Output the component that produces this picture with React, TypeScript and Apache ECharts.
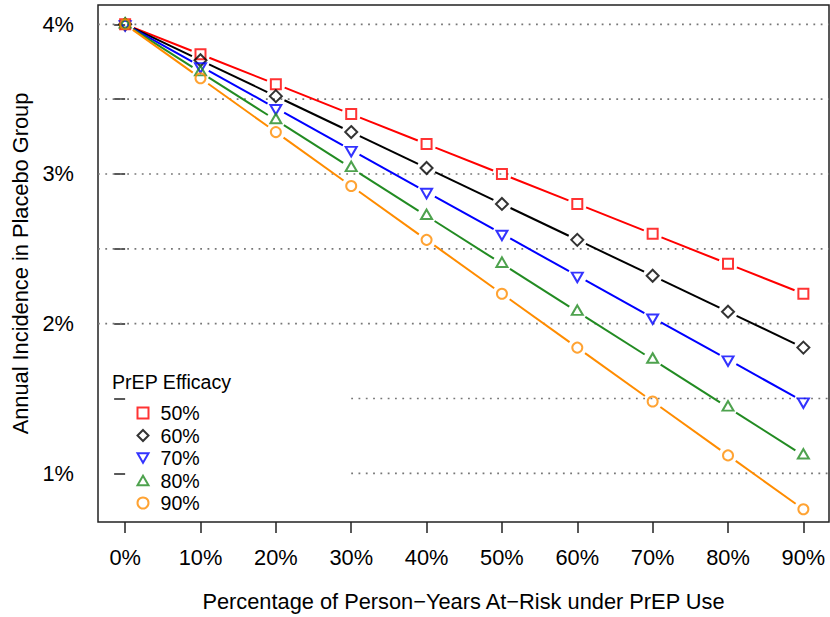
import React, { useEffect, useRef } from "react";
import * as echarts from "echarts";

// Coverage (% of person-years at risk under PrEP use)
const coverage = [0, 10, 20, 30, 40, 50, 60, 70, 80, 90];
// Annual incidence in placebo group (%) for each PrEP efficacy
const eff50 = [4.0, 3.8, 3.6, 3.4, 3.2, 3.0, 2.8, 2.6, 2.4, 2.2];
const eff60 = [4.0, 3.76, 3.52, 3.28, 3.04, 2.8, 2.56, 2.32, 2.08, 1.84];
const eff70 = [4.0, 3.72, 3.44, 3.16, 2.88, 2.6, 2.32, 2.04, 1.76, 1.48];
const eff80 = [4.0, 3.68, 3.36, 3.04, 2.72, 2.4, 2.08, 1.76, 1.44, 1.12];
const eff90 = [4.0, 3.64, 3.28, 2.92, 2.56, 2.2, 1.84, 1.48, 1.12, 0.76];
const efficacyLabels = ["50%", "60%", "70%", "80%", "90%"];
const yTickValues = [1, 1.5, 2, 2.5, 3, 3.5, 4];
const yLabelValues = [1, 2, 3, 4];
const fullGridY = [2, 2.5, 3, 3.5, 4];
const partialGridY = [1, 1.5];
const partialGridStart = 30;

const FONT = "'Liberation Sans', Arial, Helvetica, sans-serif";
const X_MIN = -3.6;
const X_MAX = 93.4;
const AXIS_FONT = 21.8;
const LEGEND_FONT = 19.6;

const seriesDefs = [
  { name: efficacyLabels[0], values: eff50, color: "#FF0000", symbol: "rect", size: [10, 10], offset: [0, 0] },
  { name: efficacyLabels[1], values: eff60, color: "#000000", symbol: "diamond", size: [12, 12], offset: [0, 0] },
  { name: efficacyLabels[2], values: eff70, color: "#0000FF", symbol: "path://M0,0L10,0L5,8.66Z", size: [11, 9.5], offset: [0, 1.6] },
  { name: efficacyLabels[3], values: eff80, color: "#228B22", symbol: "path://M5,0L10,8.66L0,8.66Z", size: [11, 9.5], offset: [0, -1.6] },
  { name: efficacyLabels[4], values: eff90, color: "#FF8C00", symbol: "circle", size: [10, 10], offset: [0, 0] },
];

const GAP = 9.5;

function gappedLine(color: string) {
  return (params: any, api: any) => {
    const p1 = api.coord([api.value(0), api.value(1)]);
    const p2 = api.coord([api.value(2), api.value(3)]);
    const dx = p2[0] - p1[0];
    const dy = p2[1] - p1[1];
    const d = Math.sqrt(dx * dx + dy * dy);
    if (d <= 2 * GAP) return null;
    const ux = dx / d;
    const uy = dy / d;
    return {
      type: "line",
      shape: {
        x1: p1[0] + ux * GAP,
        y1: p1[1] + uy * GAP,
        x2: p2[0] - ux * GAP,
        y2: p2[1] - uy * GAP,
      },
      style: { stroke: color, lineWidth: 2, fill: null },
    };
  };
}

export default function App() {
  const ref = useRef<HTMLDivElement>(null);

  useEffect(() => {
    if (!ref.current) return;
    const chart = echarts.init(ref.current, null, { renderer: "svg" });

    const gridData: number[][] = [
      ...fullGridY.map((y) => [X_MIN, y, X_MAX, y]),
      ...partialGridY.map((y) => [partialGridStart, y, X_MAX, y]),
    ];

    const series: any[] = [
      {
        name: "grid lines",
        type: "custom",
        silent: true,
        z: 1,
        data: gridData,
        encode: { x: [0, 2], y: [1, 3] },
        renderItem: (params: any, api: any) => {
          const p1 = api.coord([api.value(0), api.value(1)]);
          const p2 = api.coord([api.value(2), api.value(3)]);
          return {
            type: "line",
            shape: { x1: p1[0], y1: p1[1], x2: p2[0], y2: p2[1] },
            style: { stroke: "#777777", lineWidth: 1.7, lineDash: [1.8, 5.5], fill: null },
          };
        },
      },
    ];

    seriesDefs.forEach((s) => {
      const segs: number[][] = [];
      for (let i = 0; i < coverage.length - 1; i++) {
        segs.push([coverage[i], s.values[i], coverage[i + 1], s.values[i + 1]]);
      }
      series.push({
        name: s.name + " line",
        type: "custom",
        silent: true,
        z: 2,
        data: segs,
        encode: { x: [0, 2], y: [1, 3] },
        renderItem: gappedLine(s.color),
      });
      series.push({
        name: s.name,
        type: "scatter",
        silent: true,
        z: 2,
        symbol: s.symbol,
        symbolSize: s.size,
        symbolOffset: s.offset,
        data: coverage.map((x, i) => [x, s.values[i]]),
        itemStyle: { color: "rgba(0,0,0,0)", borderColor: s.color, borderWidth: 2 },
        emphasis: { disabled: true },
      });
    });

    const option: any = {
      animation: false,
      backgroundColor: "#ffffff",
      textStyle: { fontFamily: FONT },
      grid: {
        left: 98,
        top: 5,
        width: 731,
        height: 518,
        show: true,
        borderColor: "#222",
        borderWidth: 1.5,
        backgroundColor: "transparent",
        containLabel: false,
      },
      xAxis: {
        type: "value",
        min: X_MIN,
        max: X_MAX,
        name: "Percentage of Person\u2212Years At\u2212Risk under PrEP Use",
        nameLocation: "middle",
        nameGap: 68,
        nameTextStyle: { fontSize: AXIS_FONT, color: "#000", fontFamily: FONT },
        axisLine: { show: false },
        splitLine: { show: false },
        axisTick: {
          show: true,
          customValues: coverage,
          length: 11,
          lineStyle: { color: "#222", width: 1.5 },
        },
        axisLabel: {
          customValues: coverage,
          formatter: (v: number) => `${v}%`,
          fontSize: AXIS_FONT,
          color: "#000",
          margin: 24,
          fontFamily: FONT,
        },
      },
      yAxis: {
        type: "value",
        min: 0.675,
        max: 4.129,
        name: "Annual Incidence in Placebo Group",
        nameLocation: "middle",
        nameGap: 62,
        nameTextStyle: { fontSize: AXIS_FONT, color: "#000", fontFamily: FONT },
        axisLine: { show: false },
        splitLine: { show: false },
        axisTick: {
          show: true,
          customValues: yTickValues,
          length: 11,
          lineStyle: { color: "#222", width: 1.5 },
        },
        axisLabel: {
          customValues: yLabelValues,
          formatter: (v: number) => `${v}%`,
          fontSize: AXIS_FONT,
          color: "#000",
          margin: 24,
          fontFamily: FONT,
        },
      },
      legend: {
        data: efficacyLabels,
        orient: "vertical",
        left: 136.5,
        top: 403,
        padding: 0,
        itemWidth: 11,
        itemHeight: 11,
        itemGap: 2.5,
        selectedMode: false,
        itemStyle: { borderWidth: 2 },
        textStyle: {
          fontSize: LEGEND_FONT,
          color: "#000",
          fontFamily: FONT,
          lineHeight: 18,
          padding: [0, 0, 0, 7],
        },
      },
      graphic: [
        {
          type: "text",
          x: 112,
          y: 382,
          silent: true,
          style: {
            text: "PrEP Efficacy",
            fontSize: LEGEND_FONT,
            fontFamily: FONT,
            fill: "#000",
            verticalAlign: "middle",
          },
        },
      ],
      series,
    };

    chart.setOption(option);
    return () => chart.dispose();
  }, []);

  return (
    <div
      ref={ref}
      style={{ position: "fixed", left: 0, top: 0, width: 830, height: 617 }}
    />
  );
}
